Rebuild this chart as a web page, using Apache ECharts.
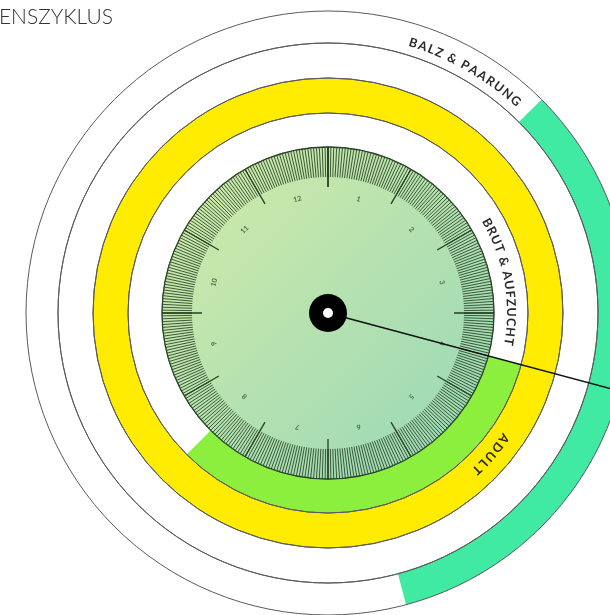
<!DOCTYPE html>
<html><head><meta charset="utf-8">
<script src="https://cdn.jsdelivr.net/npm/echarts@6/dist/echarts.min.js"></script>
<style>html,body{margin:0;padding:0;background:#fff}#c{width:610px;height:615px}</style>
</head><body><div id="c"></div>
<script>
// ---------------- data ----------------
const titleText = 'LEBENSZYKLUS';
const monthLabels = ['1','2','3','4','5','6','7','8','9','10','11','12'];
const yearLength = 12;          // months around the dial
const daysPerMonth = 30;        // minor ticks per month
const phaseNames = ['BALZ & PAARUNG', 'BRUT & AUFZUCHT', 'ADULT'];
const phaseStart = [1.5, 3.5, 0];   // month where the phase begins
const phaseEnd   = [5.5, 7.5, 12];  // month where the phase ends
const markerMonth = 3.5;            // position of the black hand

// ---------------- layout / style ----------------
const CX = 328, CY = 313;
const ringRadii = [[270, 302], [166, 200], [200, 235]];   // ring per phase
const phaseColors = ['#40EAA2', '#8DEF3D', '#FFEC00'];
const outlineRings = [[270, 302], [235, 270], [200, 235], [166, 200]];
const dialR = 166;
const labelArc = [[17.5, 41.5, 283], [60.5, 99, 183], [125.5, 136.5, 216]]; // deg start/end, radius
const lineColor = '#5a5a5a';

function phaseData(i) {
  const d = [];
  if (phaseStart[i] > 0) d.push({ value: phaseStart[i], itemStyle: { color: 'transparent' } });
  d.push({ value: phaseEnd[i] - phaseStart[i], itemStyle: { color: phaseColors[i] } });
  if (phaseEnd[i] < yearLength) d.push({ value: yearLength - phaseEnd[i], itemStyle: { color: 'transparent' } });
  return d;
}

const basePie = {
  type: 'pie', center: [CX, CY], startAngle: 90, clockwise: true,
  silent: true, label: { show: false }, labelLine: { show: false },
  emphasis: { disabled: true, scale: false }, minAngle: 0, avoidLabelOverlap: false,
  padAngle: 0
};

const series = [];
// phase fills
phaseNames.forEach((name, i) => {
  series.push(Object.assign({}, basePie, {
    name: name, radius: ringRadii[i], z: 2,
    itemStyle: { borderWidth: 0 },
    data: phaseData(i)
  }));
});
// ring outlines
outlineRings.forEach(r => {
  series.push(Object.assign({}, basePie, {
    radius: r, z: 3,
    itemStyle: { color: 'none', borderColor: lineColor, borderWidth: 1 },
    data: [{ value: yearLength }]
  }));
});
// dial
series.push(Object.assign({}, basePie, {
  radius: [0, dialR], z: 3,
  itemStyle: {
    color: { type: 'linear', x: 0, y: 0, x2: 1, y2: 1,
      colorStops: [{ offset: 0, color: '#D4ECA8' }, { offset: 1, color: '#96D7B8' }] },
    borderColor: '#2a4527', borderWidth: 1.3
  },
  data: [{ value: yearLength }]
}));

const gaugeBase = {
  type: 'gauge', center: [CX, CY], radius: dialR, silent: true,
  min: 0, max: yearLength, startAngle: 90, endAngle: -270,
  axisLine: { show: false, lineStyle: { width: 0 } },
  progress: { show: false }, anchor: { show: false },
  title: { show: false }, detail: { show: false },
  pointer: { show: false }, axisTick: { show: false },
  splitLine: { show: false }, axisLabel: { show: false }
};
// ticks
series.push(Object.assign({}, gaugeBase, {
  z: 4, splitNumber: yearLength,
  splitLine: { show: true, distance: 0, length: 40, lineStyle: { color: '#253f22', width: 1.3 } },
  axisTick: { show: true, splitNumber: daysPerMonth, distance: 0, length: 30, lineStyle: { color: '#2e4a2a', width: 0.9 } },
  data: []
}));
// month labels (centred in each month)
series.push(Object.assign({}, gaugeBase, {
  z: 4, min: 1, max: yearLength + 1, splitNumber: yearLength,
  startAngle: 90 - 360 / yearLength / 2, endAngle: -270 - 360 / yearLength / 2,
  axisLabel: { show: true, distance: 28, rotate: 'tangential', fontSize: 7, fontWeight: 'bold',
    color: '#4d6c46', fontFamily: 'Lato, sans-serif',
    formatter: v => (v >= 1 && v <= yearLength) ? monthLabels[Math.round(v) - 1] : '' },
  data: []
}));
// hand
series.push(Object.assign({}, gaugeBase, {
  z: 5,
  pointer: { show: true, icon: 'rect', length: '200%', width: 1.5, offsetCenter: [0, 0], keepAspect: false,
    itemStyle: { color: '#111' } },
  data: [{ value: markerMonth }]
}));
// hub
series.push(Object.assign({}, basePie, {
  radius: [0, 19], z: 6, itemStyle: { color: '#000', borderWidth: 0 },
  data: [{ value: yearLength }]
}));
series.push(Object.assign({}, basePie, {
  radius: [0, 5], z: 7, itemStyle: { color: '#fff', borderWidth: 0 },
  data: [{ value: yearLength }]
}));

// curved phase labels
const mctx = document.createElement('canvas').getContext('2d');
function curved(str, a0, a1, r, size) {
  const font = 'bold ' + size + 'px Lato, sans-serif';
  mctx.font = font;
  const chars = Array.from(str);
  const n = chars.length;
  const w = chars.map(c => mctx.measureText(c).width);
  let half = 0;
  for (let i = 0; i < n - 1; i++) half += (w[i] + w[i + 1]) / 2;
  const arc = (a1 - a0) * Math.PI / 180 * r;
  const gap = (arc - half) / (n - 1);
  const out = [];
  let s = 0;
  chars.forEach((c, i) => {
    if (i > 0) s += (w[i - 1] + w[i]) / 2 + gap;
    const th = a0 * Math.PI / 180 + s / r;
    out.push({
      type: 'text', silent: true, z: 20,
      x: CX + r * Math.sin(th), y: CY - r * Math.cos(th), rotation: -th,
      style: { text: c, fill: '#2a2a2a', font: font, align: 'center', verticalAlign: 'middle',
        textAlign: 'center', textVerticalAlign: 'middle' }
    });
  });
  return out;
}
let graphics = [];
phaseNames.forEach((name, i) => {
  graphics = graphics.concat(curved(name, labelArc[i][0], labelArc[i][1], labelArc[i][2], 12.5));
});

const chart = echarts.init(document.getElementById('c'), null, { renderer: 'canvas' });
chart.setOption({
  animation: false,
  backgroundColor: '#fff',
  title: { text: titleText, left: 108, top: 2, textAlign: 'right',
    textStyle: { fontSize: 21, fontWeight: 300, color: '#333', fontFamily: 'Lato, sans-serif' } },
  series: series,
  graphic: graphics
});
</script></body></html>
